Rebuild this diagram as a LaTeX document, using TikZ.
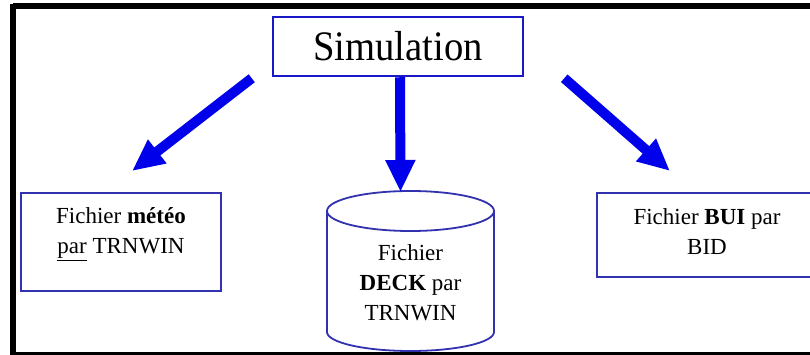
\documentclass[tikz,border=0pt]{standalone}
\usepackage{fontspec}
\setmainfont{Liberation Serif}
\usetikzlibrary{arrows.meta}
\definecolor{simblue}{RGB}{25,25,200}
\definecolor{boxblue}{RGB}{50,50,175}
\definecolor{arrblue}{RGB}{0,0,235}
\tikzset{
  boxnode/.style={draw=boxblue, line width=2pt, inner sep=0pt},
  txt/.style={align=center, font=\fontsize{23}{30}\selectfont, inner sep=0pt},
  bigarrow/.style={draw=arrblue, line width=10pt, -{Triangle[length=32pt,width=28pt]}}
}
\begin{document}
\begin{tikzpicture}[x=1pt,y=-1pt]
\useasboundingbox (0,0) rectangle (810,355);
\clip (0,0) rectangle (810,355);
\fill[white] (0,0) rectangle (810,355);
% outer frame
\draw[black, line width=6pt] (13,6.5) -- (830,6.5);
\draw[black, line width=6pt] (13,4) -- (13,358);
\draw[black, line width=6pt] (10,354.5) -- (830,354.5);
% top box
\node[draw=simblue, line width=2.5pt, minimum width=250pt, minimum height=59pt, inner sep=0pt] (sim) at (398,46.5)
  {\fontsize{42}{46}\selectfont\scalebox{0.92}[1]{Simulation}};
% left box
\node[boxnode, minimum width=200pt, minimum height=98pt] (meteo) at (121,242) {};
\node[txt] (meteotxt) at (121,234) {Fichier \textbf{météo}\\\underline{par} TRNWIN};
% right box
\node[boxnode, minimum width=220pt, minimum height=84pt] (bui) at (707,235) {};
\node[txt] (buitxt) at (707,232) {Fichier \textbf{BUI} par\\BID};
% cylinder
\coordinate (cyltop) at (410.5,191);
\draw[boxblue, line width=1.8pt, fill=white]
  (327,211) -- (327,332) arc[start angle=180, end angle=360, x radius=83.5pt, y radius=19pt]
  -- (494,211);
\draw[boxblue, line width=1.8pt] (410.5,211) ellipse[x radius=83.5pt, y radius=20pt];
\node[txt] (deck) at (410.5,283) {Fichier\\\textbf{DECK} par\\TRNWIN};
% arrows
\draw[bigarrow] ([shift={(-20,1)}]sim.south west) -- ([shift={(11,-21)}]meteo.north);
\draw[bigarrow] ([shift={(2,0)}]sim.south) -- ([shift={(-10,1)}]cyltop);
\draw[bigarrow] ([shift={(40,1)}]sim.south east) -- ([shift={(-37,-21)}]bui.north);
\end{tikzpicture}
\end{document}
